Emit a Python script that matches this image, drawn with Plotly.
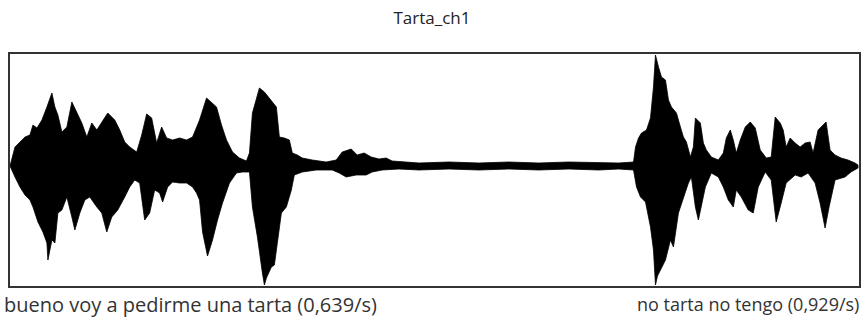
import plotly.graph_objects as go

# Waveform envelope (time in ms, amplitude in sample units)
upper_t = [0, 50, 100, 150, 200, 230, 270, 320, 370, 420, 450, 480, 520, 570, 620, 670, 720, 770, 820, 870,
           920, 980, 1050, 1100, 1150, 1200, 1270, 1320, 1370, 1420, 1470, 1520, 1570, 1630, 1700, 1770, 1830,
           1900, 1970, 2020, 2070, 2120, 2170, 2230, 2300, 2370, 2400, 2430, 2470, 2500, 2550, 2600, 2670, 2700,
           2750, 2800, 2830, 2880, 2930, 3030, 3170, 3270, 3330, 3420, 3480, 3550, 3620, 3700, 3770, 3830, 3970,
           4100, 4400, 4700, 5000, 5300, 5600, 5900, 6100, 6250, 6270, 6300, 6330, 6380, 6420, 6450, 6470, 6500,
           6530, 6570, 6600, 6630, 6680, 6720, 6750, 6780, 6820, 6850, 6870, 6920, 6950, 6980, 7030, 7100, 7150,
           7180, 7220, 7250, 7280, 7320, 7370, 7420, 7470, 7520, 7580, 7630, 7670, 7720, 7750, 7780, 7820, 7870,
           7920, 7970, 8020, 8050, 8100, 8150, 8180, 8220, 8270, 8330, 8400, 8470, 8500]
upper_amp = [0, 4750, 6000, 7250, 7750, 10250, 9500, 11500, 14750, 18250, 14750, 12750, 8500, 9750, 16000, 13500,
             10750, 7250, 10750, 9000, 11000, 13250, 11500, 9000, 6000, 4750, 3500, 7750, 13000, 12000, 5750, 9750,
             7000, 6500, 7000, 6500, 7250, 11500, 17000, 15750, 14750, 10250, 6500, 3500, 2000, 1250, 3250, 13250,
             17000, 19500, 18500, 17000, 14750, 7250, 7000, 6500, 3250, 2750, 2000, 1500, 1000, 1500, 3500, 4250,
             2750, 3250, 2250, 1750, 2000, 1250, 1000, 750, 1000, 750, 1000, 750, 1000, 750, 750, 1000, 4750, 7000,
             8250, 9000, 12000, 19750, 27750, 24750, 22250, 21500, 16500, 14750, 13250, 9750, 7250, 6000, 2250,
             4750, 12000, 10750, 5750, 4000, 2250, 1500, 3250, 7000, 9000, 6500, 3250, 6500, 9750, 11000, 9500,
             4000, 2000, 2250, 12250, 10750, 9000, 4750, 7000, 5750, 4750, 5750, 6000, 3250, 9000, 10250, 11000,
             4000, 2750, 2000, 1500, 750, 250]

lower_t = [0, 50, 100, 150, 200, 230, 280, 330, 370, 380, 420, 450, 480, 520, 570, 620, 650, 700, 750, 800, 870,
           920, 970, 1020, 1080, 1150, 1200, 1250, 1300, 1350, 1400, 1450, 1500, 1530, 1580, 1630, 1700, 1770,
           1830, 1870, 1900, 1930, 1980, 2030, 2080, 2130, 2200, 2270, 2330, 2400, 2430, 2480, 2530, 2550, 2570,
           2620, 2650, 2680, 2720, 2770, 2820, 2850, 2930, 3070, 3230, 3300, 3370, 3470, 3570, 3630, 3730, 3900,
           4100, 4400, 4700, 5000, 5300, 5600, 5900, 6100, 6250, 6280, 6320, 6370, 6420, 6450, 6470, 6490, 6520,
           6570, 6620, 6650, 6700, 6750, 6800, 6830, 6870, 6900, 6930, 6970, 7030, 7100, 7150, 7200, 7250, 7280,
           7330, 7400, 7450, 7500, 7570, 7630, 7680, 7730, 7780, 7870, 7930, 8000, 8070, 8120, 8170, 8210, 8270,
           8370, 8430, 8500]
lower_amp = [0, -2750, -5250, -7250, -8500, -10250, -14000, -16500, -19250, -23500, -18500, -19250, -11750, -11000,
             -7750, -12750, -16000, -11750, -8500, -7750, -10250, -11750, -16500, -12750, -11000, -7750, -5250,
             -3500, -4250, -13500, -11750, -6000, -6750, -9000, -5250, -4000, -4250, -4250, -5250, -6750, -8500,
             -16500, -22500, -18500, -13500, -9250, -4250, -1750, -1500, -1500, -10250, -17750, -26750, -29750,
             -28000, -25250, -24750, -18500, -11750, -10250, -6000, -2250, -1500, -1000, -1000, -1750, -2750, -2250,
             -2250, -1500, -1000, -750, -1000, -750, -1000, -750, -1000, -750, -1000, -750, -1000, -5250, -7750,
             -9000, -15250, -21000, -29750, -27500, -26000, -23500, -18500, -20250, -11750, -7750, -4250, -2750,
             -10250, -13500, -10250, -5250, -1750, -2750, -5250, -8500, -10250, -6000, -7750, -11000, -11750, -5250,
             -1500, -3500, -14000, -9250, -4250, -2250, -2750, -1750, -4250, -9250, -15500, -10250, -3500, -2750,
             -1500, -500]

time_range = [0, 8510]
amp_range = [-30000, 28000]

title_text = "Tarta_ch1"
left_label = "bueno voy a pedirme una tarta (0,639/s)"
right_label = "no tarta no tengo (0,929/s)"

poly_x = upper_t + lower_t[::-1]
poly_y = upper_amp + lower_amp[::-1]

fig = go.Figure()
fig.add_trace(go.Scatter(
    x=poly_x, y=poly_y, mode="lines", fill="toself",
    fillcolor="#000000", line=dict(color="#000000", width=0.8),
    hoverinfo="skip", showlegend=False,
))

axis_common = dict(showgrid=False, zeroline=False, showticklabels=False, ticks="",
                   showline=True, mirror=True, linecolor="#333333", linewidth=2)

FONT = "Open Sans"

fig.update_layout(
    width=864, height=325,
    margin=dict(l=10, r=3, t=54, b=39),
    paper_bgcolor="white", plot_bgcolor="white",
    xaxis=dict(range=time_range, **axis_common),
    yaxis=dict(range=amp_range, **axis_common),
    title=dict(text=title_text, x=0.5, xanchor="center", y=1 - 18 / 325, yanchor="middle",
               yref="container", font=dict(family=FONT, size=17, color="#222222")),
    font=dict(family=FONT, color="#222222"),
    showlegend=False,
    annotations=[
        dict(text=left_label, xref="paper", yref="paper", x=-0.0095, y=-0.078,
             xanchor="left", yanchor="middle", showarrow=False,
             font=dict(family=FONT, size=20, color="#333333")),
        dict(text=right_label, xref="paper", yref="paper", x=1.002, y=-0.078,
             xanchor="right", yanchor="middle", showarrow=False,
             font=dict(family=FONT, size=18, color="#333333")),
    ],
)

fig.write_html("out.html", config={"displayModeBar": False},
               post_script="document.body.style.margin='0';")
